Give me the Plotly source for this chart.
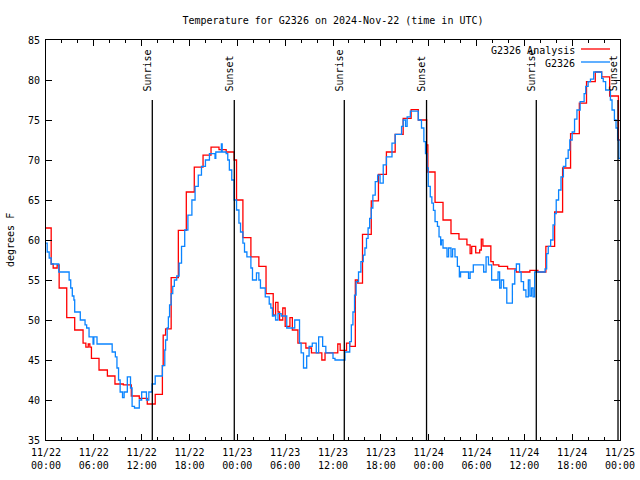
import pandas as pd
import plotly.graph_objects as go

# ---------------- data ----------------
base_time = "2024-11-22 00:00"

# G2326 Analysis (red) : hours since start, value held from that hour on
analysis_hours = [0.0, 0.65, 0.9, 1.4, 1.65, 2.6, 3.6, 4.65, 5.0, 5.3, 5.5, 5.7, 6.65, 7.7, 8.65, 9.7,
                  10.7, 11.7, 12.7, 13.7, 14.6, 14.7, 15.0, 15.7, 16.6, 17.6, 18.6, 19.7, 20.7, 21.7,
                  22.6, 23.6, 23.9, 24.7, 25.7, 26.7, 27.6, 28.5, 28.8, 29.1, 29.3, 29.7, 30.0, 30.6,
                  30.9, 31.6, 32.6, 33.3, 34.6, 35.0, 36.6, 36.9, 37.7, 38.1, 38.8, 39.1, 39.7, 40.8,
                  41.7, 42.7, 43.8, 44.8, 45.8, 46.7, 47.75, 47.9, 48.8, 49.8, 50.8, 51.8, 52.8, 53.2,
                  53.4, 53.9, 54.4, 54.6, 54.8, 55.8, 56.1, 56.8, 57.9, 59.0, 60.7, 61.7, 62.7, 63.8,
                  64.8, 65.8, 66.9, 67.8, 68.9, 69.7, 70.7, 71.8, 72.0]
analysis_vals = [61.5, 57.0, 56.5, 56.9, 54.0, 50.3, 48.75, 47.1, 46.6, 47.0, 46.6, 45.2, 43.75, 43.0, 42.0, 41.9,
                 40.5, 40.2, 39.5, 40.7, 44.3, 48.1, 48.9, 55.3, 61.2, 66.0, 69.1, 70.6, 71.6, 71.3,
                 71.0, 70.0, 65.0, 60.3, 57.9, 56.7, 53.3, 50.6, 52.2, 51.0, 50.0, 51.5, 49.2, 50.3,
                 48.75, 47.1, 46.5, 45.9, 45.0, 45.9, 47.0, 46.2, 47.1, 46.7, 55.0, 54.6, 60.7, 64.9,
                 68.2, 71.0, 73.2, 75.2, 76.3, 75.0, 71.9, 68.5, 64.7, 62.5, 60.8, 60.1, 59.4, 58.3,
                 59.2, 58.4, 58.75, 60.1, 59.25, 57.3, 56.9, 56.7, 56.4, 56.0, 56.2, 56.0, 59.2, 63.5,
                 69.0, 73.3, 77.1, 79.8, 81.0, 80.4, 78.0, 72.5, 72.5]

# G2326 observations (blue)
obs_hours = [0.0, 0.15, 0.4, 0.65, 1.6, 2.9, 3.1, 3.3, 3.5, 3.6, 4.3, 4.9, 5.1, 5.4, 5.9, 6.0, 6.4, 8.3,
             8.7, 8.9, 9.1, 9.3, 9.6, 9.8, 10.2, 10.6, 10.8, 11.1, 11.7, 12.0, 12.6, 12.9, 13.3, 13.7,
             14.6, 14.9, 15.0, 15.2, 15.35, 15.5, 15.7, 15.9, 16.1, 16.4, 16.7, 17.0, 17.4, 17.8, 18.3,
             18.7, 19.1, 19.5, 20.0, 20.5, 21.2, 21.3, 22.0, 22.1, 22.6, 22.8, 23.0, 23.3, 23.6, 23.9,
             24.2, 24.4, 24.7, 24.9, 25.2, 25.7, 25.9, 26.4, 26.7, 26.9, 27.5, 28.0, 28.2, 28.4, 28.6,
             28.8, 29.1, 29.5, 30.2, 31.2, 31.8, 32.0, 32.3, 32.7, 33.0, 33.4, 33.9, 34.2, 34.7, 35.1,
             36.0, 36.25, 37.5, 38.1, 38.3, 38.5, 38.7, 38.9, 39.2, 39.5, 39.8, 40.0, 40.2, 40.4, 40.6,
             40.8, 41.0, 41.3, 41.6, 41.9, 42.3, 42.7, 43.4, 43.8, 44.6, 44.8, 45.1, 45.3, 45.7, 46.7,
             47.1, 47.4, 47.6, 47.8, 47.95, 48.2, 48.4, 48.6, 48.8, 49.1, 49.3, 49.5, 49.6, 49.8, 50.3,
             50.5, 50.8, 51.0, 51.3, 51.6, 51.85, 52.0, 53.0, 53.2, 53.6, 54.9, 55.2, 55.5, 55.9, 56.7,
             56.9, 57.1, 57.4, 57.8, 58.5, 58.8, 59.0, 59.4, 59.6, 59.9, 60.2, 60.5, 60.7, 60.9, 61.1,
             61.3, 62.6, 62.8, 63.0, 63.3, 63.6, 63.8, 64.0, 64.3, 64.6, 64.9, 65.2, 65.5, 65.7, 66.0,
             66.3, 66.6, 67.0, 67.5, 67.7, 68.0, 68.3, 68.7, 69.7, 69.9, 70.2, 70.8, 71.0, 71.3, 71.5,
             71.7, 71.85, 72.0]
obs_vals = [59.6, 58.5, 57.75, 57.0, 56.0, 55.0, 54.0, 53.0, 52.5, 51.0, 50.0, 49.4, 49.0, 47.9, 47.0, 47.9, 47.0, 46.0,
            45.4, 44.0, 42.5, 41.0, 40.3, 41.0, 42.9, 41.5, 39.2, 39.0, 40.0, 41.0, 40.0, 41.0, 42.0, 43.0,
            44.3, 46.25, 47.5, 49.0, 50.4, 51.9, 53.3, 54.2, 55.0, 55.5, 57.1, 59.2, 61.25, 63.1, 65.0,
            66.7, 68.1, 69.2, 70.0, 70.8, 70.2, 71.0, 72.0, 71.0, 70.8, 70.0, 68.75, 67.5, 65.0, 63.75,
            62.1, 61.0, 59.6, 58.5, 57.9, 56.5, 55.0, 55.9, 55.0, 54.0, 52.9, 52.0, 51.5, 50.5, 50.6,
            50.0, 50.8, 50.5, 49.0, 50.0, 47.1, 45.9, 44.0, 45.5, 46.7, 47.1, 45.9, 47.9, 46.7, 45.9,
            45.2, 45.0, 46.0, 47.3, 49.4, 51.0, 53.1, 54.8, 56.0, 57.3, 58.1, 59.0, 60.2, 61.5, 62.7,
            64.0, 65.6, 67.3, 68.1, 67.1, 69.4, 70.4, 72.1, 73.2, 74.2, 75.0, 74.2, 75.4, 76.1, 75.0,
            74.0, 72.3, 70.8, 69.0, 66.7, 65.4, 64.6, 63.7, 62.3, 61.7, 60.4, 59.4, 60.0, 59.0, 57.9,
            59.0, 57.9, 58.9, 57.9, 56.7, 55.4, 56.0, 55.2, 56.0, 56.9, 56.0, 57.9, 56.9, 55.0, 56.0,
            54.0, 55.0, 54.0, 52.1, 54.5, 56.25, 57.0, 56.0, 54.8, 53.75, 52.9, 55.0, 53.0, 54.0, 52.9,
            56.0, 56.4, 58.3, 59.2, 60.0, 61.9, 63.3, 65.0, 66.25, 67.9, 69.2, 70.2, 71.25, 72.5, 73.5,
            75.1, 76.25, 77.3, 78.3, 79.2, 79.8, 80.1, 81.0, 80.2, 79.8, 78.75, 77.5, 76.25, 75.0, 74.0,
            72.5, 70.2, 70.1]

# sunrise / sunset events
event_times = ["2024-11-22 13:20", "2024-11-22 23:37", "2024-11-23 13:25",
               "2024-11-23 23:44", "2024-11-24 13:30", "2024-11-24 23:45"]
event_labels = ["Sunrise", "Sunset", "Sunrise", "Sunset", "Sunrise", "Sunset"]

# axis ticks
x_tick_times = ["2024-11-22 00:00", "2024-11-22 06:00", "2024-11-22 12:00", "2024-11-22 18:00",
                "2024-11-23 00:00", "2024-11-23 06:00", "2024-11-23 12:00", "2024-11-23 18:00",
                "2024-11-24 00:00", "2024-11-24 06:00", "2024-11-24 12:00", "2024-11-24 18:00",
                "2024-11-25 00:00"]
x_tick_labels = ["11/22<br>00:00", "11/22<br>06:00", "11/22<br>12:00", "11/22<br>18:00",
                 "11/23<br>00:00", "11/23<br>06:00", "11/23<br>12:00", "11/23<br>18:00",
                 "11/24<br>00:00", "11/24<br>06:00", "11/24<br>12:00", "11/24<br>18:00",
                 "11/25<br>00:00"]
y_ticks = [35, 40, 45, 50, 55, 60, 65, 70, 75, 80, 85]

series_names = ["G2326 Analysis", "G2326"]
series_colors = ["#ff0000", "#0a84ff"]

title_text = "Temperature for G2326 on 2024-Nov-22 (time in UTC)"
y_title = "degrees F"

# ---------------- figure ----------------
FONT = "DejaVu Sans Mono"
W, H = 640, 480
L, R, T, B = 46, 20, 40, 40
PW, PH = W - L - R, H - T - B


def px_x(xp):
    return (xp - L) / PW


def px_y(yp):
    return (H - B - yp) / PH


t0 = pd.Timestamp(base_time)
ax = t0 + pd.to_timedelta(analysis_hours, unit="h")
ox = t0 + pd.to_timedelta(obs_hours, unit="h")

fig = go.Figure()
fig.add_trace(go.Scatter(x=ax, y=analysis_vals, mode="lines", line_shape="hv",
                         line=dict(color=series_colors[0], width=1.3), name=series_names[0]))
fig.add_trace(go.Scatter(x=ox, y=obs_vals, mode="lines", line_shape="hv",
                         line=dict(color=series_colors[1], width=1.3), name=series_names[1]))

for t, lab in zip(event_times, event_labels):
    fig.add_shape(type="line", x0=t, x1=t, y0=35, y1=77.5, xref="x", yref="y",
                  line=dict(color="black", width=1.3), layer="above")
    fig.add_annotation(x=t, y=78.4, xref="x", yref="y", text=lab, textangle=-90,
                       showarrow=False, xanchor="right", yanchor="bottom", xshift=2,
                       font=dict(family=FONT, size=10, color="black"), borderpad=0)

# legend drawn as text + sample lines
legend_y = [50, 63]
for i, (nm, col) in enumerate(zip(series_names, series_colors)):
    fig.add_annotation(x=px_x(576), y=px_y(legend_y[i]), xref="paper", yref="paper", text=nm,
                       showarrow=False, xanchor="right", yanchor="middle",
                       font=dict(family=FONT, size=10, color="black"), borderpad=0)
    fig.add_shape(type="line", xref="paper", yref="paper", x0=px_x(581), x1=px_x(610),
                  y0=px_y(legend_y[i] - 1), y1=px_y(legend_y[i] - 1),
                  line=dict(color=col, width=1.3))

# y-axis title
fig.add_annotation(x=px_x(10), y=px_y(240), xref="paper", yref="paper", text=y_title,
                   textangle=-90, showarrow=False, xanchor="center", yanchor="middle",
                   font=dict(family=FONT, size=10, color="black"))

fig.update_layout(
    width=W, height=H,
    margin=dict(l=L, r=R, t=T, b=B, autoexpand=False),
    paper_bgcolor="white", plot_bgcolor="white",
    showlegend=False,
    font=dict(family=FONT, size=10, color="black"),
    title=dict(text=title_text, x=333 / W, xanchor="center", y=1 - 20 / H, yanchor="middle",
               font=dict(family=FONT, size=10, color="black")),
    xaxis=dict(range=[x_tick_times[0], x_tick_times[-1]], tickmode="array", tickvals=x_tick_times,
               ticktext=x_tick_labels, ticks="inside", ticklen=6, tickcolor="black", tickwidth=1,
               showline=True, linecolor="black", linewidth=1, mirror="ticks", showgrid=False,
               zeroline=False, automargin=False, ticklabelstandoff=3,
               tickfont=dict(family=FONT, size=10, color="black"),
               minor=dict(dtick=2 * 3600 * 1000, ticks="inside", ticklen=3, tickcolor="black",
                          showgrid=False)),
    yaxis=dict(range=[35, 85], tickmode="array", tickvals=y_ticks, ticks="inside", ticklen=6,
               tickcolor="black", showline=True, linecolor="black", linewidth=1, mirror="ticks",
               showgrid=False, zeroline=False, automargin=False, ticklabelstandoff=3,
               tickfont=dict(family=FONT, size=10, color="black")),
)

fig.write_html("out.html", config={"displayModeBar": False},
               post_script="document.body.style.margin='0px';")
